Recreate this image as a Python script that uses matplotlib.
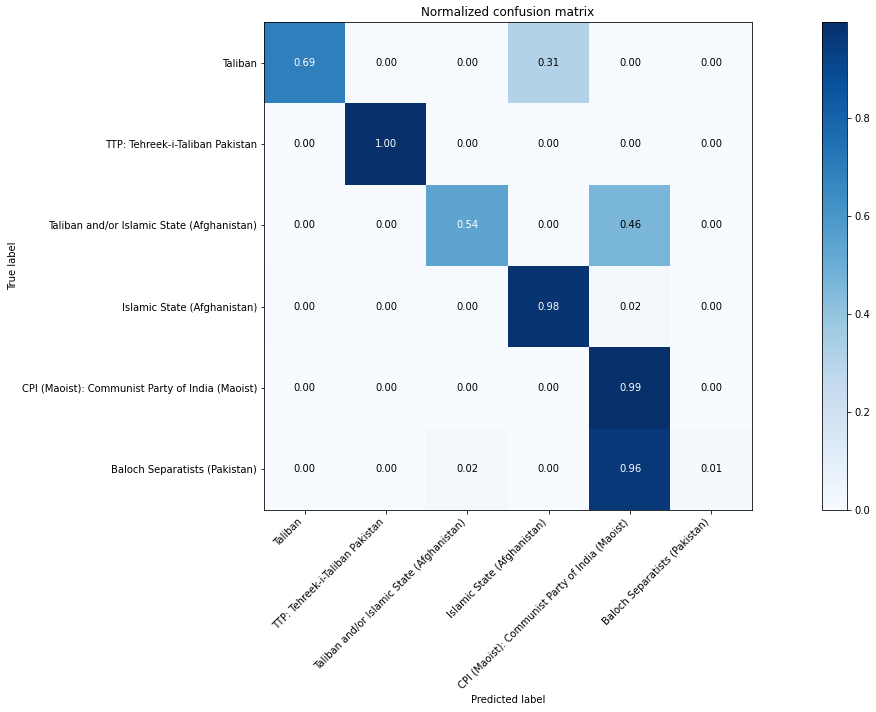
"""
Normalized confusion matrix for the six perpetrator groups.
"""
import itertools

import numpy as np
import matplotlib
matplotlib.use("Agg")
import matplotlib.pyplot as plt

# === Data ===
CLASSES = [
    "Taliban",
    "TTP: Tehreek-i-Taliban Pakistan",
    "Taliban and/or Islamic State (Afghanistan)",
    "Islamic State (Afghanistan)",
    "CPI (Maoist): Communist Party of India (Maoist)",
    "Baloch Separatists (Pakistan)",
]

ROW_TALIBAN = [0.69, 0.0, 0.0, 0.31, 0.0, 0.0]
ROW_TTP = [0.0, 0.996, 0.0, 0.0, 0.004, 0.0]
ROW_TAL_IS = [0.0, 0.0, 0.54, 0.0, 0.46, 0.0]
ROW_IS = [0.004, 0.0, 0.0, 0.976, 0.018, 0.002]
ROW_CPI = [0.0, 0.0, 0.003, 0.0, 0.992, 0.002]
ROW_BALOCH = [0.0, 0.0, 0.021, 0.0, 0.963, 0.013]

cm = np.array([ROW_TALIBAN, ROW_TTP, ROW_TAL_IS, ROW_IS, ROW_CPI, ROW_BALOCH])

W, H, DPI = 876, 712, 72
fig = plt.figure(figsize=(W / DPI, H / DPI), dpi=DPI)
ax = fig.add_axes([264 / W, (H - 510) / H, 488 / W, 488 / H])
cax = fig.add_axes([822 / W, (H - 510) / H, 25 / W, 488 / H])

im = ax.imshow(cm, interpolation="nearest", cmap=plt.cm.Blues, aspect="auto")
ax.set_title("Normalized confusion matrix", fontsize=12)
cb = fig.colorbar(im, cax=cax)
cb.ax.tick_params(labelsize=10)

ticks = np.arange(len(CLASSES))
ax.set_xticks(ticks)
ax.set_xticklabels(CLASSES, rotation=45, ha="right", fontsize=10)
ax.set_yticks(ticks)
ax.set_yticklabels(CLASSES, fontsize=10)

thresh = cm.max() / 2.0
for i, j in itertools.product(range(cm.shape[0]), range(cm.shape[1])):
    ax.text(j, i, format(cm[i, j], ".2f"),
            ha="center", va="center", fontsize=10,
            color="white" if cm[i, j] > thresh else "black")

ax.set_ylabel("True label", fontsize=10)
ax.set_xlabel("Predicted label", fontsize=10)

fig.savefig("out.png", dpi=DPI)
